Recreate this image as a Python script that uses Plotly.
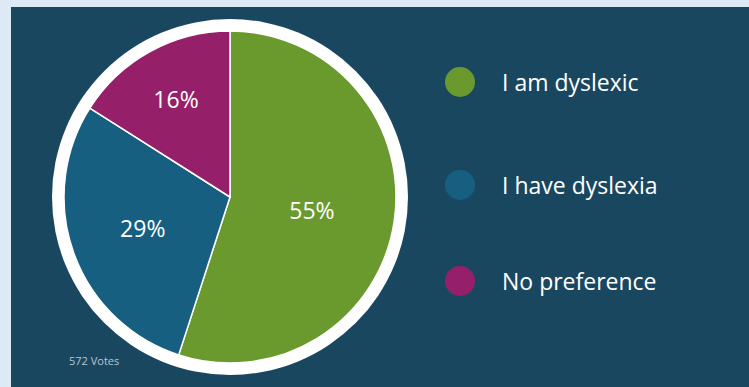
import plotly.graph_objects as go

categories = ["I am dyslexic", "I have dyslexia", "No preference"]
percentages = [55, 29, 16]
colors = ["#6a9a2e", "#175f80", "#951f69"]
votes_label = "572 Votes"

W, H = 749, 387
BG_LIGHT = "#dde9f5"
PANEL = "#1a4760"
FONT = "Open Sans"

cx, cy, r_pie, r_ring = 230, 197, 166, 178

fig = go.Figure()

fig.add_trace(go.Pie(
    labels=categories,
    values=percentages,
    sort=False,
    direction="clockwise",
    rotation=0,
    marker=dict(colors=colors, line=dict(color="white", width=1.5)),
    texttemplate="%{value}%",
    textposition="inside",
    insidetextorientation="horizontal",
    textfont=dict(color="white", size=23, family=FONT),
    hoverinfo="label+percent",
    showlegend=False,
    domain=dict(x=[(cx - r_pie) / W, (cx + r_pie) / W],
                y=[(H - cy - r_pie) / H, (H - cy + r_pie) / H]),
))

# legend drawn with a scatter on hidden pixel axes
leg_x = 460
leg_y = [82, 185, 281]
fig.add_trace(go.Scatter(
    x=[leg_x] * len(categories), y=leg_y, mode="markers",
    marker=dict(size=30, color=colors, line=dict(width=0)),
    hoverinfo="skip", showlegend=False,
))
for name, yy in zip(categories, leg_y):
    fig.add_annotation(x=500, y=yy, xref="x", yref="y", text=name,
                       showarrow=False, xanchor="left", yanchor="middle",
                       font=dict(color="white", size=23, family=FONT))

fig.add_annotation(x=67, y=360, xref="x", yref="y", text=votes_label,
                   showarrow=False, xanchor="left", yanchor="middle",
                   font=dict(color="#b9c6cf", size=11, family=FONT))

fig.add_shape(type="rect", xref="x", yref="y", x0=11, x1=W + 5, y0=7, y1=H + 5,
              fillcolor=PANEL, line=dict(width=0), layer="below")
fig.add_shape(type="circle", xref="x", yref="y",
              x0=cx - r_ring, x1=cx + r_ring, y0=cy - r_ring, y1=cy + r_ring,
              fillcolor="white", line=dict(width=0), layer="below")

fig.update_layout(
    width=W, height=H,
    margin=dict(l=0, r=0, t=0, b=0),
    paper_bgcolor=BG_LIGHT,
    plot_bgcolor="rgba(0,0,0,0)",
    xaxis=dict(range=[0, W], visible=False, fixedrange=True, domain=[0, 1]),
    yaxis=dict(range=[H, 0], visible=False, fixedrange=True, domain=[0, 1]),
    showlegend=False,
)

fig.write_html("out.html")
